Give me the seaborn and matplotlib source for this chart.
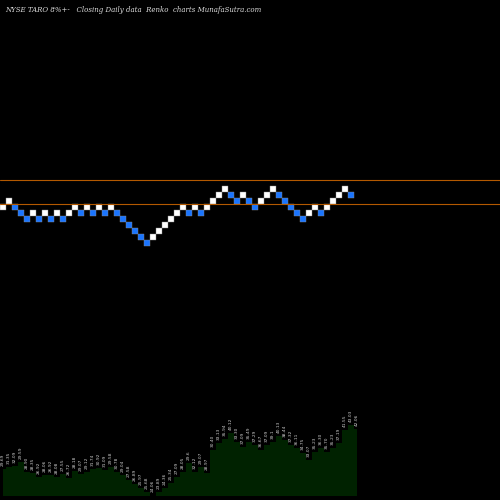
import matplotlib
matplotlib.use("Agg")
import matplotlib.pyplot as plt
import seaborn as sns
import numpy as np

sns.set_style("dark")
plt.rcParams['font.family'] = ['DejaVu Sans']

levels = [0,1,0,-1,-2,-1,-2,-1,-2,-1,-2,-1,0,-1,0,-1,0,-1,0,-1,-2,-3,-4,-5,-6,
          -5,-4,-3,-2,-1,0,-1,0,-1,0,1,2,3,2,1,2,1,0,1,2,3,2,1,0,-1,-2,-1,0,-1,0,1,2,3,2]
directions = ['W','W','B','B','B','W','B','W','B','W','B','W','W','B','W','B','W','B','W','B','B','B','B','B','B',
              'W','W','W','W','W','W','B','W','B','W','W','W','W','B','B','W','B','B','W','W','W','B','B','B','B','B',
              'W','W','B','W','W','W','W','B']
ref_lines = [4.45, 0.45]

volumes = [27,29,30,34,24,23,19,21,21,19,22,18,25,22,24,27,28,26,29,24,21,
           16,12,8,4,0.5,4,8,13,19,24,33,24,29,23,
           46,53,57,63,54,49,54,51,46,51,54,60,56,51,48,43,36,44,48,44,48,53,66,71,67]
price_labels = ["29.69","31.35","32.09","29.59","28.90","28.35","26.92","28.06","26.92","28.08",
                "27.55","26.72","28.18","29.07","29.12","31.74","30.92","31.09","29.58","30.78",
                "29.04","27.58","26.89","25.97","25.68","24.06","23.89","24.36","25.34","27.09",
                "28.05","29.6","32.12","29.07","28.97","30.40","33.13","35.94","40.12","33.30",
                "37.09","35.49","37.29","36.67","37.09","39.1","40.13","38.44","37.32","36.11",
                "34.75","33.07","35.23","36.30","35.70","35.23","37.19","41.55","43.03","42.06"]

fig = plt.figure(figsize=(5, 5), dpi=100, facecolor='black')

# volume panel
axv = fig.add_axes([0, 0, 1, 1])
axv.set_facecolor('black')
x = np.arange(len(volumes))
axv.fill_between(x, 0, volumes, step='mid', color='#002200', linewidth=0)
for xi, v, lab in zip(x, volumes, price_labels):
    axv.text(xi, v + 3, lab, rotation=90, fontsize=3.2, color='#cccccc', ha='center', va='bottom')
axv.set_xlim(-0.5, -0.5 + 500 / 6)
axv.set_ylim(-4, 496)
axv.axis('off')

# renko panel
ax = fig.add_axes([0, 0, 1, 1])
ax.patch.set_alpha(0)
xi = np.arange(len(levels))
lv = np.array(levels, dtype=float)
cols = ['#ffffff' if d == 'W' else '#1a75ff' for d in directions]
ax.bar(xi, 0.85, bottom=lv - 0.425, width=0.85, color=cols, edgecolor='#888888', linewidth=0.3)
for r in ref_lines:
    ax.axhline(r, color='#b35900', linewidth=0.8)
ax.set_xlim(-0.5, -0.5 + 500 / 6)
ax.set_ylim(-293 / 6, 207 / 6)
ax.axis('off')

fig.text(0.01, 0.988, "NYSE TARO 8%+-   Closing Daily data  Renko  charts MunafaSutra.com",
         fontsize=5, color='#dddddd', family='DejaVu Serif', style='italic', va='top')

fig.savefig("out.png", dpi=100, facecolor='black')
